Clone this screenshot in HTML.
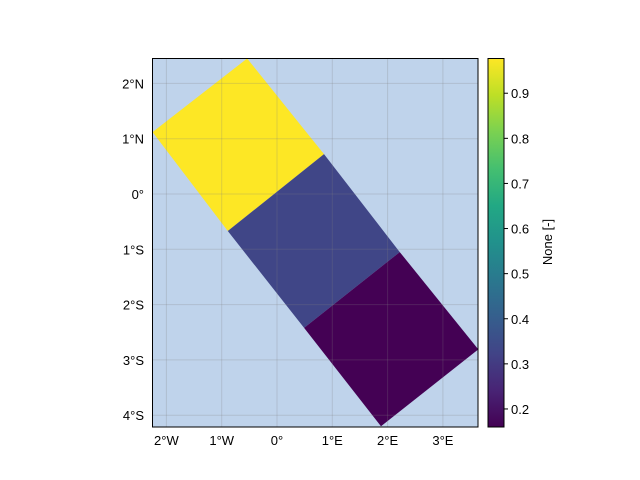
<!DOCTYPE html>
<html><head><meta charset="utf-8"><style>
body{margin:0;background:#fff}
svg{display:block;font-family:"Liberation Sans","DejaVu Sans",sans-serif}
</style></head><body>
<svg id="c" width="640" height="480" viewBox="0 0 640 480">
<defs>
<linearGradient id="vir" x1="0" y1="1" x2="0" y2="0">
<stop offset="0" stop-color="#440154"/><stop offset="0.1" stop-color="#482475"/><stop offset="0.2" stop-color="#414487"/>
<stop offset="0.3" stop-color="#355f8d"/><stop offset="0.4" stop-color="#2a788e"/><stop offset="0.5" stop-color="#21918c"/>
<stop offset="0.6" stop-color="#22a884"/><stop offset="0.7" stop-color="#44bf70"/><stop offset="0.8" stop-color="#7ad151"/>
<stop offset="0.9" stop-color="#bddf26"/><stop offset="1" stop-color="#fde725"/>
</linearGradient>
<clipPath id="clip"><rect x="152.5" y="58.5" width="325.5" height="368.5"/></clipPath>
</defs>
<rect x="152.5" y="58.5" width="325.5" height="368.5" fill="#bfd3eb"/>
<g id="cells" clip-path="url(#clip)"></g>
<g id="grid" clip-path="url(#clip)"></g>
<rect x="152.5" y="58.5" width="325.5" height="368.5" fill="none" stroke="#000" stroke-width="1"/>
<g id="ticks" font-size="13" fill="#000"></g>
<rect x="488" y="58.5" width="16" height="368.5" fill="url(#vir)" stroke="#000" stroke-width="1"/>
<g id="cbticks" font-size="13"></g>
<text x="552" y="242" font-size="13" text-anchor="middle" transform="rotate(-90 552 242)">None [-]</text>
</svg>
<script>
const cellLons=[[-0.54,-2.25,-0.89,0.85],[-0.89,0.85,2.22,0.49],[0.49,2.22,3.64,1.88]];
const cellLats=[[2.45,1.12,-0.67,0.72],[-0.67,0.72,-1.05,-2.42],[-2.42,-1.05,-2.81,-4.2]];
const cellValues=[0.977,0.33,0.16];
const lonTicks=[-2,-1,0,1,2,3];
const lonLabels=["2°W","1°W","0°","1°E","2°E","3°E"];
const latTicks=[2,1,0,-1,-2,-3,-4];
const latLabels=["2°N","1°N","0°","1°S","2°S","3°S","4°S"];
const cbTicks=[0.2,0.3,0.4,0.5,0.6,0.7,0.8,0.9];
const vmin=0.16,vmax=0.977;
const NS="http://www.w3.org/2000/svg";
const X=lon=>277+lon*55.3, Y=lat=>194-lat*55.3;
const CB=v=>427-(v-vmin)/(vmax-vmin)*368.5;
const vir=["#440154","#482475","#414487","#355f8d","#2a788e","#21918c","#22a884","#44bf70","#7ad151","#bddf26","#fde725"];
function hx(h){return [1,3,5].map(i=>parseInt(h.substr(i,2),16));}
function cmap(v){let t=Math.max(0,Math.min(1,(v-vmin)/(vmax-vmin)))*10;let i=Math.min(9,Math.floor(t)),f=t-i;
 const a=hx(vir[i]),b=hx(vir[i+1]);return "rgb("+a.map((c,k)=>Math.round(c+(b[k]-c)*f)).join(",")+")";}
function mk(t,p,a){const e=document.createElementNS(NS,t);for(const k in a)e.setAttribute(k,a[k]);p.appendChild(e);return e;}
const cells=document.getElementById('cells');
cellValues.forEach((v,i)=>{
 const pts=cellLons[i].map((lo,j)=>X(lo)+","+Y(cellLats[i][j])).join(" ");
 const p=mk('polygon',cells,{points:pts,fill:cmap(v)});
 
 
});
const grid=document.getElementById('grid'),ticks=document.getElementById('ticks');
lonTicks.forEach((t,i)=>{
 const l=mk('line',grid,{x1:X(t),x2:X(t),y1:58,y2:427,stroke:'#808080','stroke-opacity':0.25,'stroke-width':1});
 
 
 const tx=mk('text',ticks,{x:X(t),y:445,'text-anchor':'middle'});tx.textContent=lonLabels[i];
 
 
});
latTicks.forEach((t,i)=>{
 const l=mk('line',grid,{x1:152,x2:478,y1:Y(t),y2:Y(t),stroke:'#808080','stroke-opacity':0.25,'stroke-width':1});
 
 
 const tx=mk('text',ticks,{x:144,y:Y(t)+5,'text-anchor':'end'});tx.textContent=latLabels[i];
 
 
});
const cbt=document.getElementById('cbticks');
cbTicks.forEach(v=>{
 const y=CB(v);
 const l=mk('line',cbt,{x1:504,x2:508,y1:y,y2:y,stroke:'#000'});
 
 
 const tx=mk('text',cbt,{x:511,y:y+5});tx.textContent=v.toFixed(1);
 
 
});
</script>
</body></html>
